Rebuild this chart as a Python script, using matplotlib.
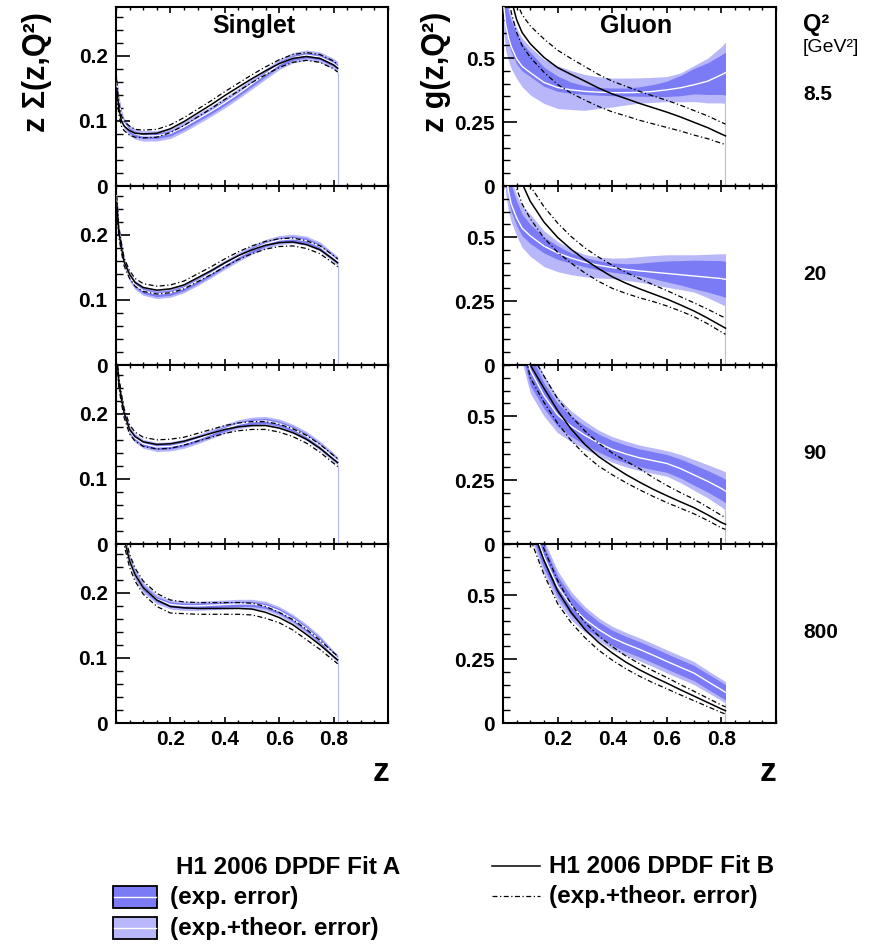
import matplotlib

matplotlib.use("Agg")
import matplotlib.pyplot as plt  # noqa: E402
import numpy as np  # noqa: E402
from matplotlib.lines import Line2D  # noqa: E402
from matplotlib.patches import Rectangle  # noqa: E402
from matplotlib.ticker import MultipleLocator  # noqa: E402

plt.rcParams["font.family"] = ["Liberation Sans", "DejaVu Sans"]

# z grid shared by all curves
Z = [0.003, 0.01, 0.02, 0.03, 0.05, 0.07, 0.1, 0.15, 0.2, 0.25, 0.3, 0.35,
     0.4, 0.45, 0.5, 0.55, 0.6, 0.65, 0.7, 0.75, 0.8, 0.815]

Q2_LABELS = ["8.5", "20", "90", "800"]

# ---- Singlet z*Sigma(z,Q2) ----
S1_A = [0.158, 0.13, 0.108, 0.096, 0.085, 0.08, 0.077, 0.077, 0.081, 0.091, 0.103,
        0.115, 0.128, 0.142, 0.157, 0.172, 0.187, 0.197, 0.201, 0.198, 0.188, 0.183]
S1_B = [0.15, 0.12, 0.1, 0.092, 0.085, 0.081, 0.08, 0.081, 0.088, 0.099, 0.112,
        0.125, 0.139, 0.152, 0.165, 0.177, 0.188, 0.196, 0.199, 0.196, 0.186, 0.181]
S1_EXP = [0.008, 0.006, 0.005, 0.005, 0.004, 0.004, 0.004, 0.004, 0.004, 0.004, 0.004,
          0.004, 0.004, 0.004, 0.004, 0.004, 0.004, 0.004, 0.004, 0.004, 0.004, 0.004]
S1_TOT = [0.014, 0.011, 0.009, 0.008, 0.008, 0.008, 0.008, 0.008, 0.008, 0.008, 0.008,
          0.008, 0.008, 0.008, 0.008, 0.008, 0.008, 0.008, 0.008, 0.008, 0.008, 0.008]
S1_BERR = [0.012, 0.009, 0.008, 0.007, 0.007, 0.006, 0.006, 0.006, 0.006, 0.006, 0.006,
           0.006, 0.006, 0.006, 0.006, 0.006, 0.006, 0.006, 0.006, 0.006, 0.006, 0.006]

S2_A = [0.26, 0.21, 0.182, 0.158, 0.136, 0.123, 0.114, 0.109, 0.111, 0.118, 0.129,
        0.141, 0.154, 0.166, 0.177, 0.186, 0.192, 0.194, 0.191, 0.182, 0.165, 0.16]
S2_B = [0.25, 0.205, 0.18, 0.158, 0.139, 0.127, 0.119, 0.115, 0.117, 0.123, 0.134,
        0.145, 0.157, 0.168, 0.177, 0.184, 0.188, 0.189, 0.185, 0.177, 0.162, 0.157]
S2_EXP = [0.006, 0.005, 0.005, 0.004, 0.004, 0.004, 0.004, 0.004, 0.004, 0.004, 0.004,
          0.004, 0.004, 0.004, 0.004, 0.004, 0.004, 0.004, 0.004, 0.004, 0.004, 0.004]
S2_TOT = [0.01, 0.009, 0.008, 0.007, 0.007, 0.007, 0.007, 0.007, 0.007, 0.007, 0.007,
          0.007, 0.007, 0.007, 0.007, 0.007, 0.007, 0.007, 0.007, 0.007, 0.007, 0.007]
S2_BERR = [0.01, 0.008, 0.007, 0.006, 0.006, 0.006, 0.006, 0.006, 0.006, 0.006, 0.006,
           0.006, 0.006, 0.006, 0.006, 0.006, 0.006, 0.006, 0.006, 0.006, 0.006, 0.006]

S3_A = [0.29, 0.25, 0.222, 0.2, 0.174, 0.163, 0.154, 0.149, 0.15, 0.154, 0.161,
        0.169, 0.177, 0.184, 0.188, 0.189, 0.185, 0.177, 0.166, 0.151, 0.133, 0.128]
S3_B = [0.29, 0.25, 0.223, 0.201, 0.176, 0.165, 0.157, 0.153, 0.154, 0.158, 0.164,
        0.17, 0.176, 0.18, 0.182, 0.182, 0.178, 0.171, 0.161, 0.147, 0.13, 0.125]
S3_EXP = [0.005, 0.005, 0.005, 0.004, 0.004, 0.004, 0.004, 0.004, 0.004, 0.004, 0.004,
          0.004, 0.004, 0.004, 0.004, 0.004, 0.004, 0.004, 0.004, 0.004, 0.004, 0.004]
S3_TOT = [0.009, 0.009, 0.008, 0.007, 0.007, 0.007, 0.007, 0.007, 0.007, 0.007, 0.007,
          0.007, 0.007, 0.007, 0.007, 0.007, 0.007, 0.007, 0.007, 0.007, 0.007, 0.006]
S3_BERR = [0.008, 0.008, 0.007, 0.007, 0.007, 0.007, 0.007, 0.007, 0.007, 0.006, 0.006,
           0.006, 0.006, 0.006, 0.006, 0.006, 0.006, 0.006, 0.006, 0.006, 0.006, 0.006]

S4_A = [0.5, 0.4, 0.33, 0.285, 0.25, 0.228, 0.208, 0.19, 0.182, 0.18, 0.18,
        0.181, 0.182, 0.183, 0.183, 0.18, 0.172, 0.16, 0.145, 0.127, 0.105, 0.099]
S4_B = [0.5, 0.4, 0.33, 0.283, 0.249, 0.228, 0.208, 0.189, 0.179, 0.177, 0.176,
        0.176, 0.176, 0.176, 0.175, 0.17, 0.162, 0.151, 0.136, 0.12, 0.102, 0.097]
S4_EXP = [0.005, 0.005, 0.005, 0.005, 0.004, 0.004, 0.004, 0.004, 0.004, 0.004, 0.004,
          0.004, 0.004, 0.004, 0.004, 0.004, 0.004, 0.004, 0.004, 0.004, 0.004, 0.004]
S4_TOT = [0.009, 0.009, 0.008, 0.008, 0.008, 0.008, 0.008, 0.007, 0.007, 0.007, 0.007,
          0.007, 0.007, 0.007, 0.007, 0.007, 0.007, 0.007, 0.007, 0.007, 0.006, 0.006]
S4_BERR = [0.01, 0.01, 0.01, 0.01, 0.01, 0.01, 0.01, 0.01, 0.01, 0.009, 0.009,
           0.009, 0.009, 0.009, 0.009, 0.009, 0.008, 0.008, 0.008, 0.007, 0.006, 0.006]

# ---- Gluon z*g(z,Q2) ----
G1_A = [0.7, 0.63, 0.58, 0.545, 0.497, 0.468, 0.443, 0.405, 0.385, 0.376, 0.37,
        0.367, 0.365, 0.365, 0.366, 0.37, 0.376, 0.384, 0.396, 0.41, 0.435, 0.443]
G1_EXP_UP = [0.1, 0.1, 0.1, 0.1, 0.1, 0.09, 0.08, 0.06, 0.045, 0.03, 0.022,
             0.018, 0.018, 0.018, 0.022, 0.027, 0.034, 0.048, 0.064, 0.072, 0.078, 0.081]
G1_EXP_DN = [0.02, 0.02, 0.02, 0.02, 0.02, 0.018, 0.015, 0.015, 0.015, 0.013, 0.012,
             0.012, 0.012, 0.013, 0.015, 0.02, 0.026, 0.031, 0.036, 0.052, 0.077, 0.087]
G1_TOT_UP = [0.12, 0.12, 0.12, 0.12, 0.12, 0.11, 0.1, 0.09, 0.085, 0.075, 0.066,
             0.06, 0.057, 0.057, 0.057, 0.055, 0.052, 0.058, 0.075, 0.09, 0.11, 0.12]
G1_TOT_DN = [0.1, 0.1, 0.09, 0.085, 0.077, 0.08, 0.087, 0.082, 0.082, 0.077, 0.074,
             0.064, 0.056, 0.048, 0.042, 0.043, 0.046, 0.055, 0.066, 0.085, 0.11, 0.12]
G1_B = [0.95, 0.88, 0.79, 0.73, 0.65, 0.6, 0.556, 0.503, 0.463, 0.436, 0.41,
        0.383, 0.36, 0.342, 0.323, 0.306, 0.289, 0.27, 0.249, 0.228, 0.203, 0.196]
G1_B_UP = [0.07, 0.07, 0.07, 0.07, 0.07, 0.07, 0.07, 0.072, 0.068, 0.062, 0.057,
           0.053, 0.05, 0.048, 0.047, 0.046, 0.046, 0.046, 0.046, 0.046, 0.046, 0.046]
G1_B_DN = [0.05, 0.05, 0.05, 0.05, 0.05, 0.051, 0.053, 0.058, 0.066, 0.073, 0.074,
           0.072, 0.07, 0.068, 0.066, 0.063, 0.06, 0.055, 0.05, 0.043, 0.036, 0.034]

G2_A = [0.85, 0.76, 0.68, 0.63, 0.575, 0.535, 0.505, 0.465, 0.438, 0.418, 0.402,
        0.39, 0.381, 0.374, 0.368, 0.363, 0.358, 0.353, 0.348, 0.343, 0.338, 0.335]
G2_EXP_UP = [0.08, 0.08, 0.08, 0.075, 0.065, 0.055, 0.045, 0.035, 0.028, 0.02, 0.018,
             0.018, 0.018, 0.022, 0.03, 0.04, 0.049, 0.055, 0.062, 0.066, 0.07, 0.07]
G2_EXP_DN = [0.03, 0.03, 0.03, 0.03, 0.03, 0.03, 0.03, 0.027, 0.025, 0.02, 0.018,
             0.018, 0.018, 0.018, 0.019, 0.025, 0.033, 0.04, 0.05, 0.058, 0.068, 0.071]
G2_TOT_UP = [0.1, 0.1, 0.1, 0.095, 0.09, 0.087, 0.085, 0.06, 0.045, 0.035, 0.03,
             0.032, 0.037, 0.045, 0.056, 0.065, 0.073, 0.078, 0.083, 0.09, 0.097, 0.1]
G2_TOT_DN = [0.1, 0.09, 0.08, 0.07, 0.07, 0.075, 0.08, 0.08, 0.073, 0.065, 0.057,
             0.05, 0.043, 0.043, 0.044, 0.049, 0.054, 0.058, 0.063, 0.08, 0.1, 0.105]
G2_B = [1.2, 1.05, 0.95, 0.88, 0.78, 0.71, 0.64, 0.559, 0.499, 0.452, 0.412,
        0.377, 0.345, 0.32, 0.298, 0.278, 0.258, 0.235, 0.211, 0.183, 0.153, 0.144]
G2_B_UP = [0.07, 0.07, 0.07, 0.07, 0.065, 0.062, 0.06, 0.06, 0.056, 0.05, 0.046,
           0.045, 0.045, 0.042, 0.04, 0.036, 0.033, 0.032, 0.032, 0.035, 0.038, 0.04]
G2_B_DN = [0.09, 0.09, 0.09, 0.09, 0.09, 0.08, 0.068, 0.062, 0.058, 0.054, 0.052,
           0.05, 0.045, 0.04, 0.035, 0.03, 0.027, 0.024, 0.022, 0.022, 0.024, 0.024]

G3_A = [1.6, 1.4, 1.2, 1.05, 0.9, 0.8, 0.68, 0.58, 0.505, 0.46, 0.425,
        0.395, 0.37, 0.352, 0.337, 0.326, 0.315, 0.295, 0.27, 0.245, 0.217, 0.207]
G3_EXP = [0.06, 0.06, 0.06, 0.06, 0.06, 0.06, 0.06, 0.05, 0.045, 0.04, 0.037,
          0.035, 0.035, 0.035, 0.035, 0.035, 0.035, 0.037, 0.04, 0.042, 0.045, 0.046]
G3_TOT = [0.09, 0.09, 0.09, 0.09, 0.09, 0.09, 0.09, 0.08, 0.07, 0.06, 0.055,
          0.05, 0.05, 0.05, 0.05, 0.05, 0.05, 0.055, 0.06, 0.065, 0.072, 0.075]
G3_B = [2.0, 1.7, 1.4, 1.2, 1.0, 0.85, 0.7, 0.609, 0.522, 0.449, 0.389,
        0.342, 0.306, 0.272, 0.242, 0.214, 0.189, 0.165, 0.142, 0.114, 0.084, 0.077]
G3_B_UP = [0.05, 0.05, 0.05, 0.05, 0.05, 0.05, 0.05, 0.048, 0.046, 0.05, 0.053,
           0.052, 0.05, 0.052, 0.053, 0.046, 0.04, 0.036, 0.033, 0.03, 0.028, 0.027]
G3_B_DN = [0.05, 0.05, 0.05, 0.05, 0.05, 0.05, 0.05, 0.055, 0.05, 0.045, 0.04,
           0.037, 0.035, 0.032, 0.03, 0.028, 0.027, 0.025, 0.024, 0.022, 0.021, 0.02]

G4_A = [3.0, 2.5, 2.0, 1.7, 1.3, 1.1, 0.8, 0.65, 0.535, 0.458, 0.405,
        0.366, 0.333, 0.309, 0.288, 0.265, 0.241, 0.218, 0.195, 0.162, 0.13, 0.12]
G4_EXP = [0.05, 0.05, 0.05, 0.05, 0.05, 0.05, 0.05, 0.045, 0.04, 0.037, 0.035,
          0.03, 0.03, 0.03, 0.03, 0.03, 0.03, 0.03, 0.03, 0.03, 0.03, 0.03]
G4_TOT = [0.07, 0.07, 0.07, 0.07, 0.07, 0.07, 0.07, 0.065, 0.06, 0.055, 0.05,
          0.045, 0.045, 0.045, 0.045, 0.045, 0.045, 0.045, 0.045, 0.043, 0.042, 0.042]
G4_B = [3.0, 2.5, 2.0, 1.7, 1.3, 1.1, 0.78, 0.636, 0.517, 0.432, 0.366,
        0.315, 0.274, 0.238, 0.208, 0.181, 0.156, 0.13, 0.105, 0.08, 0.055, 0.048]
G4_B_UP = [0.05, 0.05, 0.05, 0.05, 0.05, 0.05, 0.05, 0.045, 0.04, 0.032, 0.027,
           0.026, 0.025, 0.024, 0.024, 0.023, 0.022, 0.02, 0.019, 0.017, 0.015, 0.015]
G4_B_DN = [0.06, 0.06, 0.06, 0.06, 0.06, 0.06, 0.06, 0.055, 0.05, 0.04, 0.032,
           0.03, 0.028, 0.026, 0.025, 0.024, 0.022, 0.02, 0.018, 0.016, 0.014, 0.013]

# (A, expUp, expDn, totUp, totDn, B, bUp, bDn) per panel, rows = Q2
SINGLET = [
    (S1_A, S1_EXP, S1_EXP, S1_TOT, S1_TOT, S1_B, S1_BERR, S1_BERR),
    (S2_A, S2_EXP, S2_EXP, S2_TOT, S2_TOT, S2_B, S2_BERR, S2_BERR),
    (S3_A, S3_EXP, S3_EXP, S3_TOT, S3_TOT, S3_B, S3_BERR, S3_BERR),
    (S4_A, S4_EXP, S4_EXP, S4_TOT, S4_TOT, S4_B, S4_BERR, S4_BERR),
]
GLUON = [
    (G1_A, G1_EXP_UP, G1_EXP_DN, G1_TOT_UP, G1_TOT_DN, G1_B, G1_B_UP, G1_B_DN),
    (G2_A, G2_EXP_UP, G2_EXP_DN, G2_TOT_UP, G2_TOT_DN, G2_B, G2_B_UP, G2_B_DN),
    (G3_A, G3_EXP, G3_EXP, G3_TOT, G3_TOT, G3_B, G3_B_UP, G3_B_DN),
    (G4_A, G4_EXP, G4_EXP, G4_TOT, G4_TOT, G4_B, G4_B_UP, G4_B_DN),
]

DARK = "#7b7bf5"
LIGHT = "#b7b7fa"
W, H = 883, 947
ROW_TOP = [7, 186, 365, 544]
ROW_H = 179
COLS = [(116, 388), (503, 776)]
DASHDOT = (0, (4, 2, 1, 2))


def fx(x):
    return x / W


def fy(y):
    return 1 - y / H


def ftext(x, y, s, **kw):
    fig.text(fx(x), fy(y), s, **kw)


def draw_panel(ax, data, ylim, ymajor, yminor, bottom_row):
    a, eu, ed, tu, td, b, bu, bd = [np.asarray(v, float) for v in data]
    ax.fill_between(Z, a - td, a + tu, color=LIGHT, lw=0, zorder=1)
    ax.fill_between(Z, a - ed, a + eu, color=DARK, lw=0, zorder=2)
    ax.vlines(Z[-1], 0, a[-1] - td[-1], color=LIGHT, lw=0.8, zorder=1)
    ax.plot(Z, a, color="white", lw=1.0, zorder=3)
    ax.plot(Z, b, color="black", lw=1.1, zorder=4)
    ax.plot(Z, b + bu, color="black", lw=0.9, ls=DASHDOT, zorder=4)
    ax.plot(Z, b - bd, color="black", lw=0.9, ls=DASHDOT, zorder=4)

    ax.set_xlim(0, 1)
    ax.set_ylim(0, ylim)
    for sp in ax.spines.values():
        sp.set_linewidth(1.5)
    ax.set_yticks(ymajor)
    ax.set_yticklabels(["0" if v == 0 else f"{v:g}" for v in ymajor],
                       fontsize=15, fontweight="bold")
    ax.yaxis.set_minor_locator(MultipleLocator(yminor))
    ax.set_xticks([0.2, 0.4, 0.6, 0.8])
    ax.set_xticklabels(["0.2", "0.4", "0.6", "0.8"], fontsize=15,
                       fontweight="bold")
    ax.xaxis.set_minor_locator(MultipleLocator(0.05))
    ax.tick_params(axis="y", which="major", direction="in", length=10,
                   width=1.2, left=True, right=False, pad=6)
    ax.tick_params(axis="y", which="minor", direction="in", length=5,
                   width=1.0, left=True, right=False)
    ax.tick_params(axis="x", which="major", direction="in", length=4.5,
                   width=1.2, top=True, bottom=True, pad=5,
                   labelbottom=bottom_row)
    ax.tick_params(axis="x", which="minor", direction="in", length=2.5,
                   width=1.0, top=True, bottom=True)


fig = plt.figure(figsize=(W / 100, H / 100), dpi=100)

for row in range(4):
    top = ROW_TOP[row]
    for col, (x0, x1) in enumerate(COLS):
        ax = fig.add_axes([fx(x0), fy(top + ROW_H), fx(x1 - x0), ROW_H / H])
        if col == 0:
            draw_panel(ax, SINGLET[row], 0.275, [0, 0.1, 0.2], 0.02, row == 3)
        else:
            draw_panel(ax, GLUON[row], 0.7, [0, 0.25, 0.5], 0.05, row == 3)

# titles and axis labels
ftext(254, 33, "Singlet", fontsize=18, fontweight="bold", ha="center",
      va="baseline")
ftext(636, 33, "Gluon", fontsize=18, fontweight="bold", ha="center",
      va="baseline")
ftext(37, 72, "z Σ(z,Q²)", fontsize=22, fontweight="bold", rotation=90,
      ha="center", va="center")
ftext(436, 72, "z g(z,Q²)", fontsize=22, fontweight="bold", rotation=90,
      ha="center", va="center")
ftext(381, 772, "z", fontsize=24, fontweight="bold", ha="center", va="center")
ftext(768, 772, "z", fontsize=24, fontweight="bold", ha="center", va="center")

# Q2 column
ftext(803, 24, "Q²", fontsize=17, fontweight="bold", ha="left", va="center")
ftext(803, 47, "[GeV²]", fontsize=14, ha="left", va="center")
for row, lab in enumerate(Q2_LABELS):
    ftext(803, ROW_TOP[row] + 88, lab, fontsize=15, fontweight="bold",
          ha="left", va="center")

# legend
ftext(176, 867, "H1 2006 DPDF Fit A", fontsize=17.5, fontweight="bold",
      va="center")
for yc, col, lab in [(897, DARK, "(exp. error)"),
                     (928, LIGHT, "(exp.+theor. error)")]:
    fig.add_artist(Rectangle((fx(113), fy(yc + 11)), fx(44), 22 / H,
                             transform=fig.transFigure, facecolor=col,
                             edgecolor="black", lw=1.3))
    fig.add_artist(Line2D([fx(114), fx(156)], [fy(yc), fy(yc)],
                          transform=fig.transFigure, color="white", lw=1.0))
    ftext(170, yc, lab, fontsize=17.5, fontweight="bold", va="center")

fig.add_artist(Line2D([fx(492), fx(540)], [fy(866), fy(866)],
                      transform=fig.transFigure, color="black", lw=1.1))
ftext(549, 866, "H1 2006 DPDF Fit B", fontsize=17.5, fontweight="bold",
      va="center")
fig.add_artist(Line2D([fx(492), fx(540)], [fy(896), fy(896)],
                      transform=fig.transFigure, color="black", lw=0.9,
                      ls=DASHDOT))
ftext(549, 896, "(exp.+theor. error)", fontsize=17.5, fontweight="bold",
      va="center")

fig.savefig("out.png", dpi=100, facecolor="white")
